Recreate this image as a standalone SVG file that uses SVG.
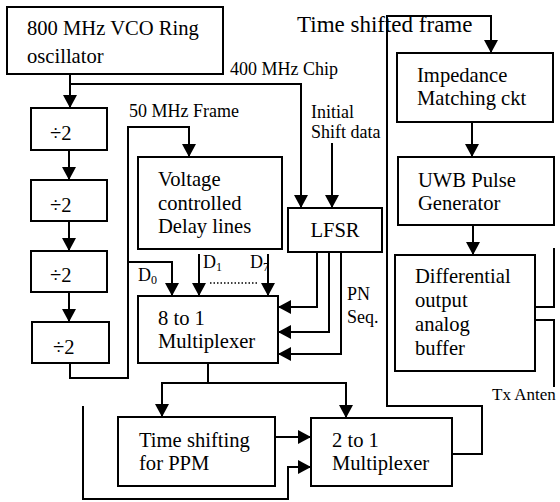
<svg xmlns="http://www.w3.org/2000/svg" width="560" height="502" viewBox="0 0 560 502">
<style>
.box{fill:#fff;stroke:#000;stroke-width:2}
.t{font-family:"Liberation Serif","Times New Roman",serif;font-size:20.6px;fill:#000}
.s{font-family:"Liberation Serif","Times New Roman",serif;font-size:18px;fill:#000}
.w{fill:none;stroke:#000;stroke-width:2}
.a{marker-end:url(#ah)}
.dot{fill:none;stroke:#000;stroke-width:1.5;stroke-dasharray:1.5 2}
</style>
<defs>
<marker id="ah" markerUnits="userSpaceOnUse" markerWidth="14" markerHeight="14" refX="13" refY="7" orient="auto">
<path d="M0,0 L13,7 L0,14 z" fill="#000"/>
</marker>
</defs>
<rect width="560" height="502" fill="#fff"/>
<g id="connectors">
<path class="w a" d="M70,74 V108"/>
<path class="w a" d="M70,84 H301 V208"/>
<path class="w a" d="M69,150 V180"/>
<path class="w a" d="M69,221 V251"/>
<path class="w a" d="M69,292 V322"/>
<path class="w a" d="M70,363 V378 H128 V127 H189 V157"/>
<path class="w a" d="M128,262 H172 V296"/>
<path class="w a" d="M332,143 V208"/>
<path class="w a" d="M199,254 V296"/>
<path class="w a" d="M268,254 V296"/>
<path class="dot" d="M210,283 H258"/>
<path class="w a" d="M317,252 V307 H278"/>
<path class="w a" d="M329,252 V332 H278"/>
<path class="w a" d="M341,252 V354 H278"/>
<path class="w" d="M208,363 V383"/>
<path class="w a" d="M208,383 H162 V417"/>
<path class="w a" d="M208,383 H346 V418"/>
<path class="w a" d="M270,437 H311"/>
<path class="w a" d="M83,406 V499 H288 V467 H311"/>
<path class="w a" d="M452,454 H482 V406 H387 V16 H491 V53"/>
<path class="w a" d="M472,122 V157"/>
<path class="w a" d="M473,225 V255"/>
<path class="w" d="M535,307 H554 V248"/>
<path class="w" d="M535,320 H554 V387"/>
</g>
<g id="vco"><rect class="box" x="7" y="7" width="216" height="67"/>
<text class="t" x="27" y="35">800 MHz VCO Ring</text><text class="t" x="27" y="63">oscillator</text></g>
<g id="div1"><rect class="box" x="31" y="108" width="76" height="42"/><text class="t" x="50" y="140">÷2</text></g>
<g id="div2"><rect class="box" x="31" y="180" width="76" height="41"/><text class="t" x="50" y="212">÷2</text></g>
<g id="div3"><rect class="box" x="31" y="251" width="76" height="41"/><text class="t" x="50" y="282">÷2</text></g>
<g id="div4"><rect class="box" x="32" y="322" width="77" height="41"/><text class="t" x="53" y="354">÷2</text></g>
<g id="vcdl"><rect class="box" x="138" y="157" width="144" height="92"/>
<text class="t" x="158" y="186">Voltage</text><text class="t" x="158" y="210">controlled</text><text class="t" x="158" y="233">Delay lines</text></g>
<g id="lfsr"><rect class="box" x="288" y="208" width="94" height="44"/><text class="t" x="335" y="237" text-anchor="middle">LFSR</text></g>
<g id="mux8"><rect class="box" x="138" y="296" width="140" height="67"/>
<text class="t" x="158" y="325">8 to 1</text><text class="t" x="158" y="348">Multiplexer</text></g>
<g id="tshift"><rect class="box" x="118" y="417" width="157" height="69"/>
<text class="t" x="139" y="447">Time shifting</text><text class="t" x="139" y="470">for PPM</text></g>
<g id="mux2"><rect class="box" x="311" y="418" width="141" height="68"/>
<text class="t" x="332" y="447">2 to 1</text><text class="t" x="332" y="470">Multiplexer</text></g>
<g id="imp"><rect class="box" x="397" y="53" width="156" height="69"/>
<text class="t" x="417" y="82">Impedance</text><text class="t" x="417" y="105">Matching ckt</text></g>
<g id="uwb"><rect class="box" x="398" y="157" width="156" height="68"/>
<text class="t" x="418" y="187">UWB Pulse</text><text class="t" x="418" y="210">Generator</text></g>
<g id="diff"><rect class="box" x="395" y="255" width="140" height="116"/>
<text class="t" x="415" y="283">Differential</text><text class="t" x="415" y="307">output</text><text class="t" x="415" y="331">analog</text><text class="t" x="415" y="355">buffer</text></g>
<g id="labels">
<text class="t" x="297" y="32" style="font-size:23px">Time shifted frame</text>
<text class="s" x="230" y="75">400 MHz Chip</text>
<text class="s" x="129" y="117">50 MHz Frame</text>
<text class="s" x="311" y="118">Initial</text>
<text class="s" x="311" y="138">Shift data</text>
<text class="s" x="347" y="300">PN</text>
<text class="s" x="347" y="323">Seq.</text>
<text class="s" x="138" y="281">D<tspan font-size="12" dy="3">0</tspan></text>
<text class="s" x="203" y="268">D<tspan font-size="12" dy="3">1</tspan></text>
<text class="s" x="250" y="268">D<tspan font-size="12" dy="3">7</tspan></text>
<text class="s" x="492" y="400" style="font-size:17px">Tx Anten</text>
</g>
</svg>
